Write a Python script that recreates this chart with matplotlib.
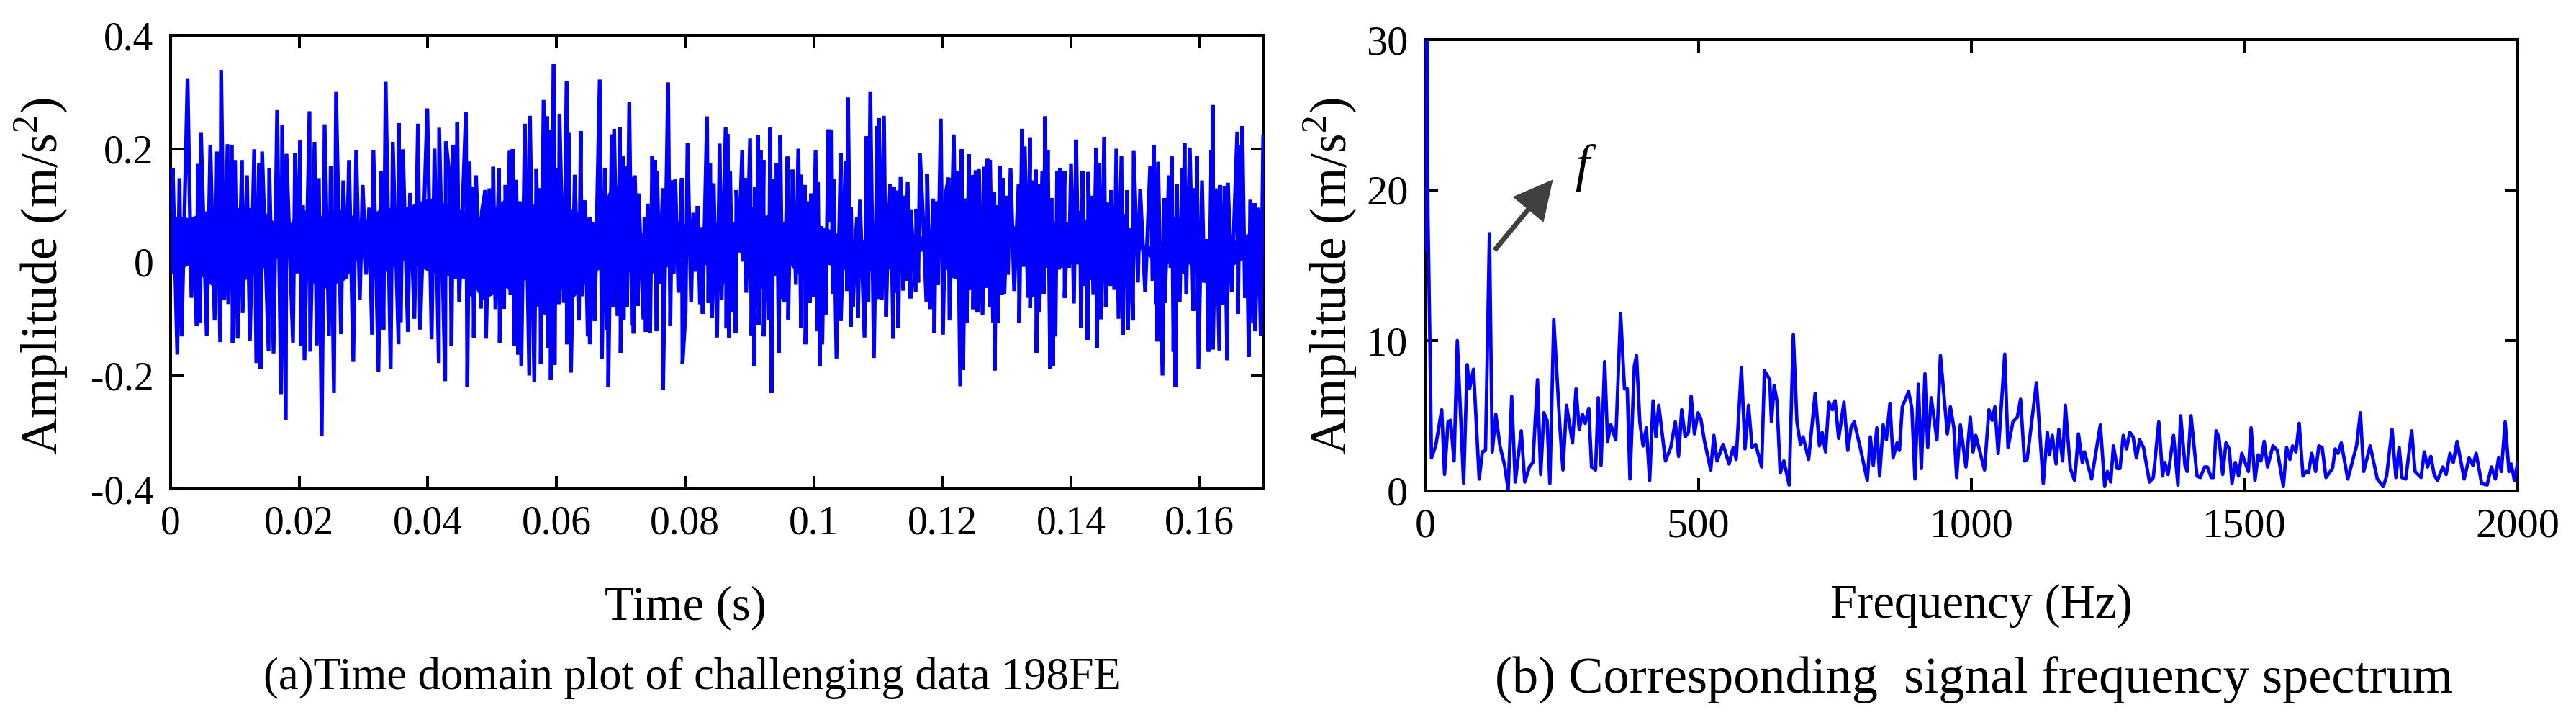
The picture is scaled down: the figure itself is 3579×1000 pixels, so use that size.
import matplotlib
matplotlib.use('Agg')
import matplotlib.pyplot as plt

plt.rcParams['font.family'] = ['Liberation Serif', 'DejaVu Serif']

# (a) time signal, peaks and troughs
time_ms = [
    0, .33, 1.04, 1.38, 1.71, 2.64, 3.24, 3.69, 4.06, 4.25,
    4.62, 4.73, 5.62, 6.18, 6.85, 7.22, 7.71, 7.86, 8.34, 8.86,
    8.97, 9.53, 9.65, 10.02, 10.43, 11.1, 11.2, 11.88, 12.33, 13.0,
    13.33, 13.74, 14.0, 14.23, 15.23, 15.34, 16.01, 16.57, 17.17, 17.35,
    17.91, 18.02, 19.03, 19.36, 19.7, 20.15, 20.26, 20.56, 20.82, 21.6,
    21.71, 22.38, 22.72, 23.05, 23.5, 23.95, 24.62, 24.9, 25.4, 25.73,
    26.5, 26.85, 27.33, 27.74, 28.41, 28.86, 29.42, 29.87, 30.42, 30.87,
    31.32, 31.54, 32.32, 32.73, 33.1, 33.44, 34.22, 34.55, 35.45, 35.47,
    35.8, 36.12, 36.9, 37.24, 37.91, 38.47, 38.8, 39.92, 40.59, 41.04,
    41.71, 41.76, 42.7, 42.8, 43.42, 43.68, 43.98, 44.28, 44.58, 44.87,
    45.92, 46.14, 46.48, 46.78, 46.96, 47.15, 47.49, 48.27, 48.38, 48.94,
    49.05, 49.57, 49.95, 50.17, 50.51, 51.07, 51.18, 51.51, 51.85, 52.07,
    52.41, 52.74, 52.86, 53.19, 53.49, 53.75, 54.05, 54.27, 54.53, 55.09,
    55.77, 55.88, 56.55, 56.88, 57.22, 57.44, 57.56, 58.0, 58.27, 58.53,
    58.71, 58.9, 59.12, 59.57, 59.72, 59.94, 60.35, 60.47, 61.14, 61.6,
    61.62, 61.92, 62.26, 62.85, 63.49, 63.78, 63.93, 64.42, 64.87, 65.17,
    65.18, 65.8, 65.95, 66.36, 66.73, 67.07, 67.52, 67.81, 67.93, 68.07,
    68.6, 68.75, 68.97, 69.49, 69.87, 69.98, 70.31, 70.46, 70.65, 70.98,
    71.32, 71.77, 71.88, 71.99, 72.2, 72.66, 72.77, 73.52, 73.7, 73.89,
    74.19, 74.57, 74.9, 75.12, 75.35, 75.57, 75.65, 76.06, 76.54, 76.58,
    77.36, 77.7, 78.0, 78.2, 78.48, 78.97, 79.49, 79.6, 80.08, 80.38,
    80.94, 81.28, 81.65, 81.95, 82.32, 82.51, 82.73, 83.41, 83.63, 83.89,
    84.19, 84.45, 84.97, 85.38, 85.68, 86.31, 86.43, 86.6, 86.86, 87.0,
    87.42, 87.65, 87.87, 87.98, 88.36, 88.88, 89.1, 89.33, 89.51, 90.11,
    90.33, 90.59, 90.78, 90.85, 91.15, 91.34, 91.45, 91.75, 92.01, 92.2,
    92.23, 92.64, 93.02, 93.24, 93.46, 93.76, 94.14, 94.25, 94.58, 94.81,
    95.11, 95.26, 95.44, 95.93, 96.04, 96.37, 96.56, 96.71, 97.23, 97.61,
    98.05, 98.06, 98.4, 98.61, 98.72, 99.17, 99.4, 99.62, 99.92, 100.29,
    100.59, 100.66, 100.96, 101.22, 101.33, 101.6, 101.86, 102.3, 102.53, 102.79,
    102.94, 103.09, 103.54, 104.21, 104.22, 104.95, 105.18, 105.33, 105.77, 105.8,
    106.11, 106.48, 106.74, 106.89, 107.19, 107.9, 108.24, 108.5, 108.8, 109.36,
    109.91, 110.03, 110.14, 110.59, 110.92, 111.26, 111.56, 111.93, 112.38, 112.49,
    112.71, 112.9, 113.16, 113.5, 113.94, 113.98, 114.28, 114.61, 115.06, 115.09,
    115.85, 115.96, 116.25, 116.52, 117.0, 117.52, 117.64, 118.12, 118.57, 118.76,
    119.02, 119.31, 119.76, 120.1, 120.51, 120.99, 121.11, 121.78, 122.11, 122.37,
    122.78, 123.01, 123.23, 123.6, 123.79, 124.13, 124.42, 124.65, 124.8, 125.17,
    125.47, 125.69, 126.25, 126.59, 126.81, 127.03, 127.37, 127.41, 127.89, 128.08,
    128.15, 128.4, 128.64, 128.94, 129.24, 129.39, 129.65, 130.13, 130.2, 130.61,
    131.17, 131.85, 131.96, 132.4, 132.6, 132.82, 133.3, 133.64, 133.66, 133.97,
    134.31, 134.53, 134.64, 134.94, 135.09, 135.54, 135.76, 135.99, 136.17, 136.4,
    136.77, 136.96, 137.22, 137.4, 137.59, 137.85, 138.15, 138.34, 138.63, 139.0,
    139.02, 139.46, 139.7, 140.01, 140.46, 140.8, 141.13, 141.4, 141.58, 141.8,
    142.14, 142.4, 142.59, 142.7, 142.92, 143.11, 143.48, 143.93, 144.04, 144.38,
    144.68, 145.16, 145.42, 145.8, 146.17, 146.24, 146.73, 147.06, 147.4, 147.85,
    148.07, 148.41, 148.6, 148.74, 148.85, 149.26, 149.64, 149.75, 150.42, 150.76,
    151.54, 152.32, 152.7, 152.88, 153.26, 153.4, 153.44, 153.55, 154.23, 154.56,
    154.6, 155.23, 155.5, 155.68, 155.94, 156.1, 156.24, 156.46, 156.91, 157.36,
    157.5, 157.66, 157.92, 158.48, 159.04, 159.1, 159.4, 159.6, 159.82, 160.38,
    160.72, 161.1, 161.39, 161.84, 161.95, 162.06, 162.08, 162.53, 163.07, 163.18,
    163.59, 163.89, 164.3, 164.41, 165.0, 165.86, 165.97, 166.3, 166.5, 166.64,
    167.06, 167.4, 167.65, 167.88, 168.33, 168.55, 168.66, 169.1, 169.52, 169.9,
]
amplitude = [
    .09, .166, -.163, .148, -.131, .323, -.063, .076, -.113, .173,
    -.107, .228, -.130, .207, -.103, .195, -.141, .339, -.067, .208,
    -.074, .207, -.142, .18, -.135, .18, -.09, .153, -.139, .199,
    -.178, .174, -.188, .195, -.157, .166, -.161, .268, -.233, .242,
    -.278, .191, -.142, .193, -.02, .214, -.147, .10, -.173, .266,
    -.158, .212, -.147, .148, -.307, .243, -.130, .169, -.231, .30,
    -.127, .144, -.03, .18, -.176, .197, -.067, .136, -.022, .096,
    -.128, .197, -.193, .16, -.119, .318, -.188, .212, -.145, .245,
    -.106, .199, -.123, .122, -.100, .244, -.119, .271, -.136, .2,
    -.178, .237, -.21, .213, .148, -.148, .207, -.03, .247, -.07,
    .264, -.22, .177, -.06, .132, -.133, .153, -.082, .088, .127,
    -.135, .13, -.048, .168, -.083, .165, -.142, .073, -.082, .136,
    -.042, .196, -.058, .199, -.147, .145, -.163, .107, -.184, .244,
    -.2, .258, -.212, .164, -.079, .13, -.18, .286, -.092, .257,
    -.151, .232, -.208, .349, -.181, .166, -.074, .261, -.072, .319,
    -.145, .228, -.195, .154, -.103, .231, -.06, .109, -.131, .08,
    -.145, .071, -.104, .121, .322, -.171, .166, -.12, .078, -.22,
    .225, -.079, .235, -.095, .237, -.16, .187, -.101, .169, -.079,
    .282, -.112, .15, -.126, .153, -.077, .121, -.101, .08, -.123,
    .103, -.125, .187, -.017, .18, -.122, .16, -.038, .13, -.225,
    .317, -.113, .144, -.02, .146, -.054, .148, -.179, -.09, .21,
    -.071, .087, -.017, .099, -.074, .046, -.091, .257, -.072, .174,
    -.099, .139, -.133, .209, -.067, .238, -.117, .226, -.133, .16,
    -.088, .071, -.125, .127, .017, .197, .001, .148, -.054, .218,
    -.129, .096, -.184, .132, -.079, .223, -.111, .197, -.047, .18,
    -.131, .082, -.101, .237, -.231, .146, -.024, .175, -.16, .223,
    -.065, .071, -.07, .186, -.101, .098, .008, .163, -.04, .2,
    -.116, .154, -.03, .136, -.145, .107, -.072, .121, -.061, .197,
    -.122, .141, -.184, .063, -.145, .05, -.092, .234, .07, .232,
    -.056, .146, -.17, .192, -.104, .179, -.051, .29, -.114, .096,
    -.079, .035, .079, -.098, .11, -.133, .222, -.07, .3, -.169,
    .24, -.065, .254, -.066, .258, -.096, .055, .137, -.135, .132,
    -.054, .126, -.116, .15, -.05, .117, -.033, .141, -.064, .093,
    -.053, .094, -.036, .192, .078, -.07, .155, -.083, .112, -.125,
    .107, -.04, .253, -.128, .121, .149, -.103, .225, -.029, .161,
    -.219, .199, -.19, .112, -.107, .19, -.049, .153, -.083, .162,
    -.089, .164, -.093, .168, -.045, .182, -.079, .18, -.106, .123,
    -.191, .1, -.108, .17, -.058, .148, -.056, .117, -.022, .166,
    -.051, .137, -.107, .235, -.008, .204, -.063, .22, -.081, .144,
    -.061, .163, -.16, .137, -.089, .16, -.056, .257, .007, .198,
    -.189, .113, -.183, .071, -.131, .161, -.013, .166, .001, .161,
    -.063, .069, -.01, .173, -.073, .216, -.004, .09, -.116, .161,
    -.042, .06, -.137, .159, -.031, .117, -.058, .202, -.151, .175,
    -.101, .221, -.079, .105, -.042, .127, -.049, .2, -.1, .187,
    -.128, .085, -.03, .127, -.119, .06, -.103, .196, -.036, .129,
    -.053, .17, -.033, .206, -.074, .05, -.14, .177, -.2, .113,
    -.072, .153, -.01, .186, -.158, .04, -.22, .137, -.07, .166,
    -.02, .21, -.057, .202, -.086, .13, -.02, .187, -.188, .144,
    -.036, .04, -.158, .198, -.02, .277, -.154, .13, -.156, .136,
    -.076, .134, -.173, .14, -.052, .23, -.091, .207, .014, .24,
    -.063, .02, -.167, .11, -.108, .104, -.122, .096, -.13, .221,
]
# solid core of the signal, its upper and lower edge
core_ms = [
    0, 2.94, 6.67, 10.39, 14.11, 17.84, 19.7, 23.42, 27.15, 29.38, 32.73, 36.46, 40.18,
    46.59, 48.46, 52.19, 54.05, 54.8, 59.65, 62.63, 65.99, 68.97, 72.7, 76.43, 81.65, 85.76,
    88.36, 92.09, 95.07, 97.68, 102.16, 105.89, 106.82, 109.62, 111.48, 114.47, 118.94, 121.18, 125.66, 129.76,
    130.5, 133.86, 137.59, 141.32, 145.05, 149.15, 151.0, 154.0, 156.24, 160.34, 163.7, 167.43, 169.67,
]
core_top = [
    .082, .078, .096, .096, .096, .048, .096, .082, .096, .067, .096, .096, .114,
    .087, .078, .114, .032, .096, .114, .092, .069, .146, .046, .082, .06, .073,
    .069, .073, .071, .069, .06, .037, .032, .055, .05, .032, .06, .082, .073, .064,
    .06, .078, .071, .069, .096, .06, .032, .023, .087, .032, .028, .05, .096,
]
core_bottom = [
    -.022, -.004, -.045, -.04, -.013, .017, -.013, -.049, -.031, .012, -.022, .005, -.017,
    -.031, -.067, -.045, -.067, -.031, -.04, -.063, -.017, .001, -.029, -.013, .019, -.045,
    .019, -.045, .01, -.022, -.004, -.017, -.013, -.017, -.013, .01, .028, -.026, -.045, -.022,
    .032, -.004, -.013, .001, -.022, .014, .023, -.013, .01, -.017, -.017, .01, -.022,
]
time_ticks = [0, .02, .04, .06, .08, .1, .12, .14, .16]
time_labels = ['0', '0.02', '0.04', '0.06', '0.08', '0.1', '0.12', '0.14', '0.16']
amp_ticks = [-.4, -.2, 0, .2, .4]
amp_labels = ['-0.4', '-0.2', '0', '0.2', '0.4']

# (b) spectrum
freq = [
    0, 3, 5.2, 9, 11.6, 19.4, 30.4, 35.6, 42, 46.6, 53, 58.9, 70.5, 77, 81.5, 88.6,
    99, 104.8, 110.6, 117.8, 122.9, 129.4, 137, 145.6, 152, 158.5, 165, 176, 182.5, 190.9,
    197.3, 205.7, 211.6, 217.4, 223.2, 228.4, 235.5, 247, 252.3, 258.8, 269.8, 276.3, 282, 288, 293, 299.6,
    304.7, 312, 317, 322, 328.7, 334, 340, 349, 357.8, 365, 370, 375, 383, 387, 393, 399,
    405, 411, 417.3, 422.5, 427.7, 440, 449.7, 458, 464, 469.7, 476, 482, 487, 493, 499.5, 504.7,
    511, 522.8, 528.6, 534.4, 545.4, 556.4, 564, 569.4, 579, 585.5, 592, 598.5, 605, 616, 621.2, 630.8,
    634, 639, 644, 650, 656.7, 666.4, 674, 680.6, 687, 692, 702, 714, 721.8, 726.8, 733, 739,
    745.4, 750.5, 757, 766.7, 773.8, 779.6, 785.4, 795.8, 809.4, 815, 820.4, 826.9, 832, 838.5, 844.3, 850.8,
    856.6, 863.8, 868.3, 873.5, 885, 891, 896.7, 903, 908.4, 915, 920, 926.5, 936.9, 943.3, 956, 961.5,
    968, 973, 979.8, 990, 998, 1003, 1008, 1024, 1032, 1038, 1043, 1049, 1061, 1067, 1076, 1084,
    1090, 1097, 1102, 1119, 1131.5, 1139, 1143, 1148, 1155, 1160, 1167, 1172, 1181, 1189, 1196, 1203,
    1207, 1220, 1236, 1244, 1249, 1255, 1260, 1267, 1272, 1278, 1284, 1290, 1296, 1302, 1308, 1315,
    1326, 1333, 1343, 1350, 1354, 1360, 1370, 1378, 1383, 1391, 1395, 1402, 1413, 1419, 1427, 1432,
    1439, 1443, 1448, 1453, 1460, 1466, 1472, 1477, 1483, 1489, 1495, 1507, 1512, 1519, 1525, 1530,
    1536, 1542, 1552, 1560, 1571, 1577, 1583, 1588, 1594, 1600, 1607, 1613, 1617, 1623, 1630, 1636,
    1642, 1649, 1661, 1666, 1671, 1677, 1689, 1705, 1712, 1718, 1730, 1743, 1754, 1760, 1770, 1777,
    1783, 1788, 1795, 1806, 1812, 1823, 1829, 1835, 1841, 1847, 1853, 1863, 1869, 1876, 1882, 1889,
    1902, 1911, 1918, 1924, 1934, 1944, 1952, 1959, 1965, 1970, 1977, 1984, 1988, 1994, 2000,
]
spectrum = [
    16, 32, 18.3, 9.4, 2.2, 3, 5.4, 1.1, 4.6, 4.7, 2, 10, .5, 8.4, 6.8, 8.1,
    .8, 2.6, 2.7, 17.1, 2.6, 5.1, 3, 1.7, .1, 6.3, .6, 4, .6, 1.6,
    1.9, 7.4, 1.1, 5.2, 4.7, .5, 11.4, 4.1, 1.4, 5.7, 3.2, 6.8, 4.1, 5.1, 4.5, 5.5,
    1.6, 1.4, 6.2, 1.7, 8.6, 3.3, 4.4, 3.4, 11.8, 6.8, 6.8, .8, 8.3, 9, 4.6, 3,
    4.2, .7, 6, 3.6, 5.7, 2, 2.9, 4.6, 2.3, 5.4, 3.6, 3.9, 6.3, 3.8, 5.2, 4.8,
    3.4, 1.4, 3.7, 2, 3.1, 1.8, 2.9, 2.1, 8.2, 2.8, 5.7, 2.9, 3.1, 1.6, 8, 7.4,
    4.6, 7, 6, 1.2, 2, .4, 10.4, 4.6, 3.1, 3.6, 2.1, 6.5, 3, 3.9, 2.6, 5.9,
    5.4, 6, 3.5, 5.9, 2.7, 4.2, 4.6, 3, .7, 3.6, 1.7, 4.2, 1, 4.4, 3.4, 5.8,
    2.2, 3.2, 2.7, 5.6, 6.6, 5.5, .8, 7.1, 1.5, 7.8, 2.9, 6.2, 3.4, 9, 3.8, 5.6,
    4.2, .9, 4.4, 1.6, 4.9, 2.6, 3.7, 1.4, 5.4, 4.7, 5.6, 2.5, 9.1, 2.9, 4.6, 4.9,
    6.1, 2, 2.1, 7.2, .5, 3.9, 2.4, 3.7, 1.8, 4.1, 2, 5.7, 1.5, .7, 3.8, 1.9,
    2.6, .8, 4.4, .3, 1.3, .6, 3, 1.5, 1.5, 3.7, 2.8, 3.9, 3.6, 2.2, 3.4, 2.9,
    .6, .9, 4.6, 1, 1.9, 1.1, 3.7, .4, 5, 1.7, 1.3, 5, 1, .9, 1.6, 1.6,
    .9, .9, 4, 3.6, 1.1, 3.2, 2.8, .5, 1.9, 1, 2.5, 1.3, 4.2, .7, 2.4, 2,
    3.3, 1.6, 3, 2.7, .3, 2.9, 2.1, 3, 2.6, 4.5, 1, 1.3, 1.2, 2.5, 1.3, 3,
    2.9, .9, 1.5, 2.8, 2.5, 3.2, .8, 3, 5.2, 1.3, 3, .8, .3, 1, 4.1, .9,
    2.9, .9, .8, 4, 1.3, .9, 2.6, 1.6, 2.3, 1.1, .7, 1.6, 1.1, 2.5, 1.9, 3.3,
    .8, 2.2, 1.7, 2.5, .5, .4, 1.6, .8, 2.2, 1.3, 4.6, 1.3, 1.8, .7, 1.9,
]
freq_ticks = [0, 500, 1000, 1500, 2000]
spec_ticks = [0, 10, 20, 30]

W, H = 3579, 1000
BLUE = '#0000ff'


def style_axes(ax, size, xpad):
    for s in ax.spines.values():
        s.set_linewidth(2.9)
    ax.tick_params(direction='in', length=13, width=2.9, top=True, right=True,
                   labelsize=size)
    ax.tick_params(axis='x', pad=xpad)
    ax.tick_params(axis='y', pad=17)


fig = plt.figure(figsize=(W / 100, H / 100), dpi=100)

ax1 = fig.add_axes([237 / W, 1 - 679 / H, 1519 / W, 630 / H])
ax1.plot([t / 1000 for t in time_ms], amplitude, color=BLUE, lw=3.8,
         solid_joinstyle='bevel', zorder=3)
ax1.fill_between([t / 1000 for t in core_ms], core_bottom, core_top, color=BLUE,
                 lw=0, zorder=3)
ax1.set_xlim(0, .17)
ax1.set_ylim(-.4, .4)
ax1.set_xticks(time_ticks, time_labels)
ax1.set_yticks(amp_ticks, amp_labels)
style_axes(ax1, 40, 16)

ax2 = fig.add_axes([1980 / W, 1 - 682 / H, 1518 / W, 627 / H])
ax2.plot(freq, spectrum, color=BLUE, lw=3.4, solid_joinstyle='round', zorder=3)
ax2.set_xlim(0, 2000)
ax2.set_ylim(0, 30)
ax2.set_xticks(freq_ticks)
ax2.set_yticks(spec_ticks)
style_axes(ax2, 42, 17)

ax2.annotate('', xy=(234, 20.7), xytext=(127, 16),
             arrowprops=dict(facecolor='#404040', edgecolor='none', width=5,
                             headwidth=40, headlength=39, shrink=0))
ax2.text(288, 21.5, 'f', fontsize=52, style='italic', ha='center', va='center')

ylab = 'Amplitude (m/s$^{\\mathregular{2}}$)'
fig.text(57 / W, 1 - 384 / H, ylab, rotation=90, fontsize=51, ha='center', va='center')
fig.text(1848 / W, 1 - 384 / H, ylab, rotation=90, fontsize=51, ha='center', va='center')
fig.text(952 / W, 1 - 861 / H, 'Time (s)', fontsize=48, ha='center', va='baseline')
fig.text(2753 / W, 1 - 858 / H, 'Frequency (Hz)', fontsize=48, ha='center', va='baseline')
fig.text(962 / W, 1 - 957 / H, '(a)Time domain plot of challenging data 198FE',
         fontsize=45, ha='center', va='baseline')
fig.text(2743 / W, 1 - 963 / H, '(b) Corresponding  signal frequency spectrum',
         fontsize=52, ha='center', va='baseline')

fig.savefig('out.png', dpi=100)
